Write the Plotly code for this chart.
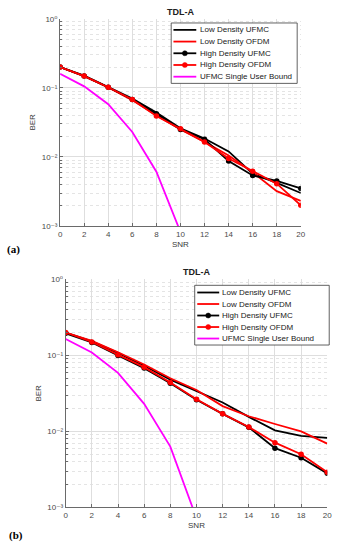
import plotly.graph_objects as go

W, H = 345, 550

snr = [0, 2, 4, 6, 8, 10, 12, 14, 16, 18, 20]
bound_snr = [0, 2, 4, 6, 8, 10]
x_ticks = [0, 2, 4, 6, 8, 10, 12, 14, 16, 18, 20]
y_ticks = [1e-3, 1e-2, 1e-1, 1]
y_ticktext = ["10\u207b\u00b3", "10\u207b\u00b2", "10\u207b\u00b9", "10\u2070"]

series_names = ["Low Density UFMC", "Low Density OFDM", "High Density UFMC",
                "High Density OFDM", "UFMC Single User Bound"]

# Panel (a)
a_low_ufmc = [0.200, 0.150, 0.103, 0.070, 0.044, 0.026, 0.0185, 0.0120, 0.0057, 0.0042, 0.0030]
a_low_ofdm = [0.200, 0.148, 0.101, 0.066, 0.040, 0.025, 0.0165, 0.0105, 0.0060, 0.0032, 0.0023]
a_high_ufmc = [0.200, 0.148, 0.102, 0.068, 0.042, 0.025, 0.0180, 0.0087, 0.0054, 0.0045, 0.0035]
a_high_ofdm = [0.200, 0.148, 0.102, 0.068, 0.039, 0.0255, 0.0165, 0.0095, 0.0062, 0.0041, 0.0020]
a_bound = [0.160, 0.105, 0.058, 0.023, 0.0061, 0.00082]

# Panel (b)
b_low_ufmc = [0.200, 0.153, 0.108, 0.073, 0.048, 0.034, 0.0240, 0.0155, 0.0103, 0.0087, 0.0082]
b_low_ofdm = [0.200, 0.155, 0.110, 0.076, 0.050, 0.035, 0.0215, 0.0158, 0.0125, 0.0100, 0.0069]
b_high_ufmc = [0.195, 0.148, 0.100, 0.068, 0.043, 0.026, 0.0170, 0.0113, 0.0060, 0.0045, 0.0028]
b_high_ofdm = [0.200, 0.150, 0.102, 0.070, 0.044, 0.0265, 0.0170, 0.0114, 0.0071, 0.0050, 0.0029]
b_bound = [0.164, 0.109, 0.059, 0.023, 0.0063, 0.00072]

colors = ["#000000", "#ff0000", "#000000", "#ff0000", "#ff00ff"]
with_markers = [False, False, True, True, False]

# ---- layout geometry (pixels) ----
PA = dict(x0=59.3, x1=305.0, y0=15.0, y1=225.7)
PB = dict(x0=65.0, x1=332.0, y0=280.0, y1=511.7)

def xd(p):
    return [p["x0"] / W, p["x1"] / W]

def yd(p):
    return [1 - p["y1"] / H, 1 - p["y0"] / H]

fig = go.Figure()

panels = [
    ("x", "y", [a_low_ufmc, a_low_ofdm, a_high_ufmc, a_high_ofdm], a_bound),
    ("x2", "y2", [b_low_ufmc, b_low_ofdm, b_high_ufmc, b_high_ofdm], b_bound),
]
for xa, ya, series, bound in panels:
    for i, vals in enumerate(series):
        fig.add_trace(go.Scatter(
            x=snr, y=vals, name=series_names[i], xaxis=xa, yaxis=ya,
            mode="lines+markers" if with_markers[i] else "lines",
            line=dict(color=colors[i], width=1.8),
            marker=dict(size=5.5, color=colors[i]),
            showlegend=False))
    fig.add_trace(go.Scatter(
        x=bound_snr, y=bound, name=series_names[4], xaxis=xa, yaxis=ya,
        mode="lines", line=dict(color=colors[4], width=1.8), showlegend=False))

grid_major = "#dedede"
grid_minor = "#e4e4e4"
axis_col = "#6a6a6a"
tick_font = dict(family="Liberation Sans, DejaVu Sans, Arial", size=8, color="#4a4a4a")
lbl_font = dict(family="Liberation Sans, Arial", size=8, color="#3a3a3a")

minor_vals = [k * 10.0 ** e for e in (-3, -2, -1) for k in range(2, 10)]

def xaxis_cfg(p, anchor):
    return dict(domain=xd(p), anchor=anchor, range=[0, 20], tickvals=x_ticks,
                showgrid=True, gridcolor=grid_major, gridwidth=1,
                showline=True, linecolor=axis_col, linewidth=1, mirror=False,
                ticks="inside", ticklen=3, tickcolor=axis_col, zeroline=False,
                tickfont=tick_font,
                title=dict(text="SNR", font=lbl_font, standoff=3))

def yaxis_cfg(p, anchor):
    return dict(domain=yd(p), anchor=anchor, type="log", range=[-3, 0],
                tickvals=y_ticks, ticktext=y_ticktext,
                showgrid=True, gridcolor=grid_major, gridwidth=1,
                minor=dict(tickvals=minor_vals, showgrid=True, gridcolor=grid_minor,
                           griddash="dot", gridwidth=1, ticks="inside", ticklen=2,
                           tickcolor=axis_col),
                showline=True, linecolor=axis_col, linewidth=1, mirror=False,
                ticks="inside", ticklen=3, tickcolor=axis_col, zeroline=False,
                tickfont=tick_font,
                title=dict(text="BER", font=lbl_font, standoff=4))

fig.update_layout(
    width=W, height=H, margin=dict(l=0, r=0, t=0, b=0),
    paper_bgcolor="white", plot_bgcolor="white", showlegend=False,
    xaxis=xaxis_cfg(PA, "y"), yaxis=yaxis_cfg(PA, "x"),
    xaxis2=xaxis_cfg(PB, "y2"), yaxis2=yaxis_cfg(PB, "x2"),
)

annotations = []
shapes = []

def px(xp):
    return xp / W

def py(yp):
    return 1 - yp / H

# titles
for p, t_y in ((PA, 8.5), (PB, 272.0)):
    annotations.append(dict(text="<b>TDL-A</b>", x=px((p["x0"] + p["x1"]) / 2), y=py(t_y),
                            xref="paper", yref="paper", showarrow=False,
                            xanchor="center", yanchor="middle",
                            font=dict(family="Liberation Sans, Arial", size=9, color="#202020")))

# panel labels
for lab, lx, ly in (("(a)", 3.0, 250.0), ("(b)", 5.0, 540.0)):
    annotations.append(dict(text="<b>" + lab + "</b>", x=px(lx), y=py(ly),
                            xref="paper", yref="paper", showarrow=False,
                            xanchor="left", yanchor="middle",
                            font=dict(family="Liberation Serif, Times New Roman", size=11,
                                      color="#000000")))

# custom legends
legend_specs = [
    dict(box=(172.7, 19.3, 301.3, 80.7), row0=26.3, step=11.9, s0=175.0, s1=198.3, tx=199.8),
    dict(box=(196.7, 286.0, 334.0, 346.7), row0=293.3, step=11.7, s0=199.3, s1=221.7, tx=223.0),
]
for L in legend_specs:
    bx0, by0, bx1, by1 = L["box"]
    shapes.append(dict(type="rect", xref="paper", yref="paper",
                       x0=px(bx0), x1=px(bx1), y0=py(by1), y1=py(by0),
                       line=dict(color="#3a3a3a", width=0.8), fillcolor="white"))
    for i, name in enumerate(series_names):
        ry = L["row0"] + i * L["step"]
        shapes.append(dict(type="line", xref="paper", yref="paper",
                           x0=px(L["s0"]), x1=px(L["s1"]), y0=py(ry), y1=py(ry),
                           line=dict(color=colors[i], width=1.8)))
        if with_markers[i]:
            cx = (L["s0"] + L["s1"]) / 2
            shapes.append(dict(type="circle", xref="paper", yref="paper",
                               xsizemode="pixel", ysizemode="pixel",
                               xanchor=px(cx), yanchor=py(ry),
                               x0=-2.5, x1=2.5, y0=-2.5, y1=2.5,
                               line=dict(color=colors[i], width=0.5), fillcolor=colors[i]))
        annotations.append(dict(text=name, x=px(L["tx"]), y=py(ry), xref="paper", yref="paper",
                                showarrow=False, xanchor="left", yanchor="middle",
                                font=dict(family="Liberation Sans, Arial", size=8,
                                          color="#202020")))

fig.update_layout(annotations=annotations, shapes=shapes)

fig.write_html("out.html", config={"displayModeBar": False},
               post_script="document.body.style.margin='0';")
